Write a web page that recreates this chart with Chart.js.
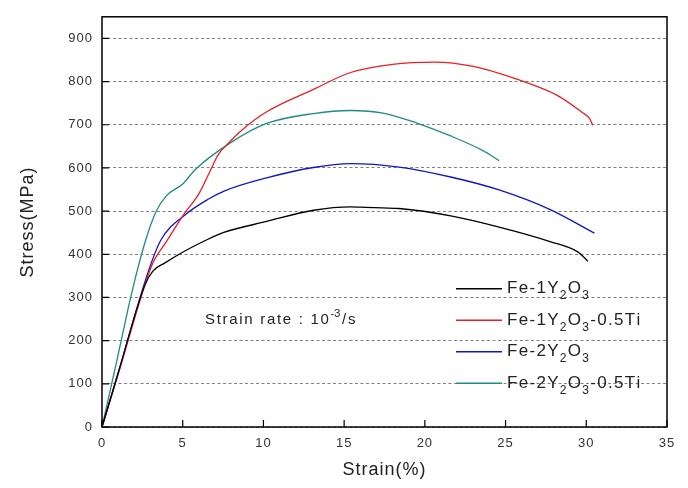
<!DOCTYPE html>
<html>
<head>
<meta charset="utf-8">
<script src="https://cdn.jsdelivr.net/npm/chart.js@4"></script>
<style>
    html, body { margin: 0; padding: 0; background: #fff; }
    #wrap { width: 688px; height: 488px; }
</style>
</head>
<body>
<div id="wrap"><canvas id="stressChart"></canvas></div>
<script>
// values
const seriesLabels = ['Fe-1Y_2O_3', 'Fe-1Y_2O_3-0.5Ti', 'Fe-2Y_2O_3', 'Fe-2Y_2O_3-0.5Ti'];
const seriesColors = ['#000000', '#ee1c24', '#1414c8', '#1e8c82'];

const fe1Strain = [0, 1.0, 2.65, 3.15, 3.9, 5.1, 6.4, 7.5, 10.2, 13.1, 15.4, 16.0, 18.4, 21.6, 24.6, 27.8, 29.5, 30.1];
const fe1Stress = [0, 125, 328, 361, 380, 407, 432, 450, 476, 502, 510, 509, 506, 489, 463, 429, 405, 384];

const fe1TiStrain = [0, 1.0, 2.65, 3.15, 4.0, 5.1, 6.0, 6.7, 7.2, 7.75, 8.55, 10.2, 13.1, 15.4, 18.0, 20.6, 23.0, 25.65, 28.2, 29.8, 30.2, 30.4];
const fe1TiStress = [0, 122, 328, 380, 430, 494, 540, 593, 631, 654, 684, 730, 782, 821, 840, 845, 835, 806, 768, 727, 715, 699];

const fe2Strain = [0, 1.0, 2.85, 3.65, 5.1, 6.6, 7.6, 10.2, 13.1, 15.4, 18.4, 21.6, 24.6, 27.8, 30.5];
const fe2Stress = [0, 125, 358, 433, 490, 528, 547, 577, 601, 610, 602, 579, 549, 503, 449];

const fe2TiStrain = [0, 0.9, 1.85, 2.65, 3.35, 4.0, 5.0, 5.8, 7.95, 10.2, 13.1, 15.4, 17.4, 19.5, 21.6, 23.6, 24.6];
const fe2TiStress = [0, 150, 312, 426, 499, 536, 563, 597, 658, 703, 726, 733, 727, 704, 674, 640, 617];

const xTicks = [0, 5, 10, 15, 20, 25, 30, 35];
const yTicks = [0, 100, 200, 300, 400, 500, 600, 700, 800, 900];

function toPoints(xs, ys) {
    return xs.map(function (x, i) { return {x: x, y: ys[i]}; });
}

const allStrain = [fe1Strain, fe1TiStrain, fe2Strain, fe2TiStrain];
const allStress = [fe1Stress, fe1TiStress, fe2Stress, fe2TiStress];

const tickFont = {family: 'Liberation Sans', size: 13};
const textColor = '#333333';

// draw a label where "_d" is a subscript digit and "^x" a superscript run
function drawRichText(ctx, text, x, y, size, gap) {
    ctx.letterSpacing = '0px';
    let i = 0;
    while (i < text.length) {
        let ch = text[i];
        if (ch === '_' || ch === '^') {
            let end = i + 1;
            if (ch === '_') {
                end = i + 2;
            } else {
                while (end < text.length && /[-0-9]/.test(text[end])) end++;
            }
            let part = text.slice(i + 1, end);
            ctx.font = Math.round(size * 0.72) + 'px "Liberation Sans"';
            ctx.fillText(part, x, y + (ch === '_' ? size * 0.42 : -size * 0.42));
            x += ctx.measureText(part).width + gap;
            i = end;
        } else {
            ctx.font = size + 'px "Liberation Sans"';
            ctx.fillText(ch, x, y);
            x += ctx.measureText(ch).width + gap;
            i++;
        }
    }
}

const framePlugin = {
    id: 'frame',
    beforeDraw: function (chart) {
        chart.ctx.letterSpacing = '1px';
    },
    afterDraw: function (chart) {
        const ctx = chart.ctx;
        const area = chart.chartArea;
        const xs = chart.scales.x, ys = chart.scales.y;
        ctx.save();
        ctx.strokeStyle = '#000';
        ctx.lineWidth = 1.5;
        ctx.strokeRect(area.left, area.top, area.right - area.left, area.bottom - area.top);
        ctx.lineWidth = 1.2;
        ctx.beginPath();
        xs.ticks.forEach(function (t) {
            let px = xs.getPixelForValue(t.value);
            ctx.moveTo(px, area.bottom);
            ctx.lineTo(px, area.bottom - 7);
        });
        ys.ticks.forEach(function (t) {
            let py = ys.getPixelForValue(t.value);
            ctx.moveTo(area.left, py);
            ctx.lineTo(area.left + 7, py);
        });
        ctx.stroke();

        // legend
        ctx.textBaseline = 'middle';
        chart.data.datasets.forEach(function (ds, i) {
            let rowY = area.top + 272 + i * 31.5;
            ctx.strokeStyle = ds.borderColor;
            ctx.lineWidth = 1.5;
            ctx.beginPath();
            ctx.moveTo(area.left + 354, rowY);
            ctx.lineTo(area.left + 400, rowY);
            ctx.stroke();
            ctx.fillStyle = '#222';
            drawRichText(ctx, ds.label, area.left + 405, rowY, 17, 1.3);
        });

        // note
        ctx.fillStyle = '#222';
        drawRichText(ctx, 'Strain rate : 10^-3/s', area.left + 103, area.top + 303, 15, 1.7);
        ctx.restore();
    }
};

const datasets = seriesLabels.map(function (label, i) {
    return {
        label: label,
        data: toPoints(allStrain[i], allStress[i]),
        borderColor: seriesColors[i],
        backgroundColor: seriesColors[i],
        borderWidth: 1.3,
        pointRadius: 0,
        cubicInterpolationMode: 'monotone',
        fill: false
    };
});

new Chart(document.getElementById('stressChart'), {
    type: 'line',
    data: {datasets: datasets},
    plugins: [framePlugin],
    options: {
        responsive: true,
        maintainAspectRatio: false,
        animation: false,
        layout: {padding: {top: 10, right: 21, left: 0, bottom: 0}},
        plugins: {
            legend: {display: false},
            tooltip: {enabled: false}
        },
        scales: {
            x: {
                type: 'linear',
                min: 0,
                max: 35,
                afterBuildTicks: function (scale) {
                    scale.ticks = xTicks.map(function (v) { return {value: v}; });
                },
                afterFit: function (scale) { scale.height = 61; },
                grid: {display: false, drawTicks: false},
                border: {display: false},
                ticks: {color: textColor, font: tickFont, padding: 9, maxRotation: 0},
                title: {
                    display: true,
                    text: 'Strain(%)',
                    color: '#222',
                    font: {family: 'Liberation Sans', size: 18},
                    padding: {top: 0, bottom: 7}
                }
            },
            y: {
                min: 0,
                max: 950,
                afterBuildTicks: function (scale) {
                    scale.ticks = yTicks.map(function (v) { return {value: v}; });
                },
                afterFit: function (scale) { scale.width = 102; },
                grid: {color: '#808080', lineWidth: 1, drawTicks: false},
                border: {display: false, dash: [3, 2.5]},
                ticks: {color: textColor, font: tickFont, padding: 9},
                title: {
                    display: true,
                    text: 'Stress(MPa)',
                    color: '#222',
                    font: {family: 'Liberation Sans', size: 18},
                    padding: {top: 17, bottom: 0}
                }
            }
        }
    }
});
</script>
</body>
</html>
